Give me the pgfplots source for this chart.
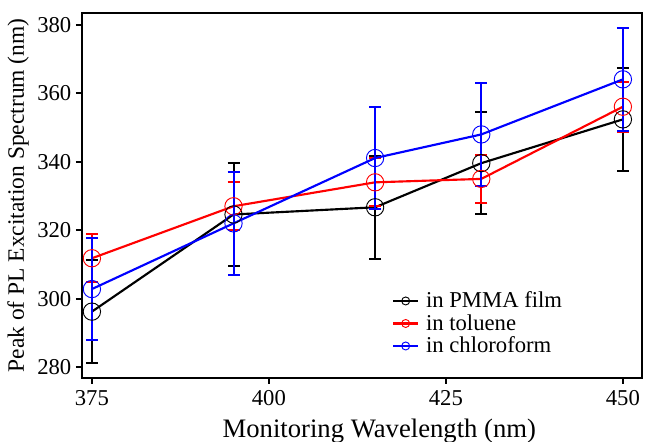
\documentclass[border=0pt]{standalone}
\usepackage{pgfplots}
\pgfplotsset{compat=1.18}
\usepackage{fontspec}
\setmainfont{Liberation Serif}
\begin{document}
\rmfamily
\begin{tikzpicture}[font=\rmfamily]
\useasboundingbox (-61.5pt,-48pt) rectangle (426pt,283.5pt);
\begin{axis}[
  at={(0pt,0pt)}, anchor=south west,
  width=420pt, height=273.75pt, scale only axis,
  xmin=373.6, xmax=452.7, ymin=276.8, ymax=383.5,
  xtick={375,400,425,450},
  ytick={280,300,320,340,360,380},
  xticklabels={375,400,425,450},
  yticklabels={280,300,320,340,360,380},
  xticklabel style={font=\rmfamily\fontsize{17}{19}\selectfont, yshift=-1pt,
    /pgf/number format/assume math mode=true},
  yticklabel style={font=\rmfamily\fontsize{17}{19}\selectfont,
    /pgf/number format/assume math mode=true},
  tick align=outside, tick pos=left,
  major tick length=4.5pt,
  axis line style={line width=1.4pt},
  tick style={line width=1.4pt, black},
  xlabel={Monitoring Wavelength (nm)},
  ylabel={Peak of PL Excitation Spectrum (nm)},
  xlabel style={font=\rmfamily\fontsize{20}{22}\selectfont,
    at={(axis description cs:0.5,0)}, anchor=center, yshift=-40pt, xshift=13pt},
  ylabel style={font=\rmfamily\fontsize{17.6}{20}\selectfont,
    at={(axis description cs:0,0.5)}, anchor=center, yshift=48pt},
  legend style={draw=none, fill=none, at={(0.553,0.24)}, anchor=north west,
    font=\rmfamily\fontsize{17}{19}\selectfont, row sep=1.5pt, inner sep=0pt,
    nodes={inner xsep=5pt, inner ysep=1pt}},
  legend cell align=left,
  legend image code/.code={
    \draw[#1, mark=none] (0pt,0pt) -- (19pt,0pt);
    \draw[#1, mark size=3pt, line width=0.6pt] plot coordinates {(9.5pt,0pt)};
  },
]
\addplot[black, line width=1.6pt, mark=o, mark size=6.5pt, mark options={line width=0.7pt},
  error bars/.cd, y dir=both, y explicit,
  error bar style={line width=1.5pt},
  error mark options={rotate=90, mark size=4.5pt, line width=1.5pt}] coordinates {
  (375,296.2) +- (0,15)
  (395,324.6) +- (0,15)
  (415,326.7) +- (0,15)
  (430,339.6) +- (0,15)
  (450,352.4) +- (0,15)
};
\addlegendentry{in PMMA film}
\addplot[red, line width=1.6pt, mark=o, mark size=6.5pt, mark options={line width=0.7pt},
  error bars/.cd, y dir=both, y explicit,
  error bar style={line width=1.5pt},
  error mark options={rotate=90, mark size=4.5pt, line width=1.5pt}] coordinates {
  (375,311.8) +- (0,7)
  (395,327.0) +- (0,7)
  (415,334.0) +- (0,7)
  (430,335.0) +- (0,7)
  (450,356.1) +- (0,7.3)
};
\addlegendentry{in toluene}
\addplot[blue, line width=1.6pt, mark=o, mark size=6.5pt, mark options={line width=0.7pt},
  error bars/.cd, y dir=both, y explicit,
  error bar style={line width=1.5pt},
  error mark options={rotate=90, mark size=4.5pt, line width=1.5pt}] coordinates {
  (375,302.8) +- (0,15)
  (395,322.0) +- (0,15)
  (415,341.1) +- (0,15)
  (430,348.0) +- (0,15)
  (450,364.1) +- (0,15)
};
\addlegendentry{in chloroform}
\end{axis}
\end{tikzpicture}
\end{document}
